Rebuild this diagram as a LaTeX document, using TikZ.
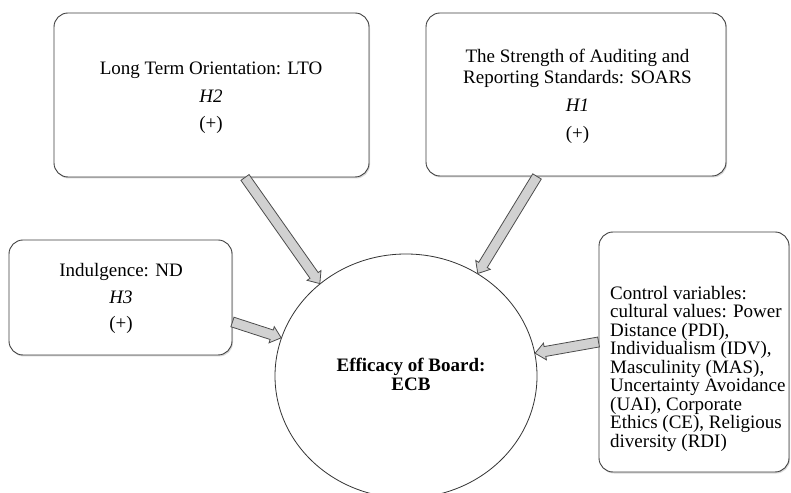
\documentclass[tikz,border=0pt]{standalone}
\usepackage{fontspec}
\setmainfont{Liberation Serif}
\usetikzlibrary{calc,shapes.geometric,shadows}
\newcommand\myarrow[2]{%
  \coordinate (hb) at ($(#2)!10pt!(#1)$);
  \draw[barrow] ($(#1)!5pt!90:(#2)$) -- ($(hb)!5pt!90:(#2)$) -- ($(hb)!8.5pt!90:(#2)$) -- (#2)
     -- ($(hb)!8.5pt!-90:(#2)$) -- ($(hb)!5pt!-90:(#2)$) -- ($(#1)!5pt!-90:(#2)$) -- cycle;}
\begin{document}
\begin{tikzpicture}[x=1pt,y=1pt,
  box/.style={draw=black!75, line width=0.9pt, rounded corners=14pt, fill=white,
    drop shadow={shadow xshift=1pt,shadow yshift=-1.5pt,opacity=0.3}, inner sep=0},
  txt/.style={font=\fontsize{19}{20}\selectfont, anchor=base, inner sep=0},
  hyp/.style={txt, font=\fontsize{19}{20}\selectfont\itshape},
  barrow/.style={draw=black!70, fill=black!18, line width=0.8pt, line join=miter}]
\useasboundingbox (0,0) rectangle (791,492);
\fill[white] (0,0) rectangle (791,492);
% boxes
\node[box, minimum width=315pt, minimum height=164pt] (lto) at (211.5,397) {};
\node[box, minimum width=300pt, minimum height=163pt] (soars) at (576,397.5) {};
\node[box, minimum width=223pt, minimum height=115pt] (nd) at (120.5,194.5) {};
\node[box, minimum width=190pt, minimum height=240pt] (ctrl) at (694,140) {};
\node[ellipse, draw=black!80, line width=0.8pt, fill=white, minimum width=262pt, minimum height=244pt, inner sep=0] (ecb) at (406,116) {};
% texts
\node[txt] (lto1) at (211,417) {Long Term Orientation: LTO};
\node[hyp] (lto2) at (211,389) {H2};
\node[txt] (lto3) at (211,362) {(+)};
\node[txt] (so1) at (577.5,429) {The Strength of Auditing and};
\node[txt] (so2) at (577.5,408.5) {Reporting Standards: SOARS};
\node[hyp] (so3) at (577.5,380) {H1};
\node[txt] (so4) at (577.5,352) {(+)};
\node[txt] (nd1) at (121,215) {Indulgence: ND};
\node[hyp] (nd2) at (121,188) {H3};
\node[txt] (nd3) at (121,162) {(+)};
\node[txt, font=\fontsize{19}{20}\selectfont\bfseries] (ecb1) at (411,120) {Efficacy of Board:};
\node[txt, font=\fontsize{19}{20}\selectfont\bfseries] (ecb2) at (411,101) {ECB};
\node[font=\fontsize{19}{18.5}\selectfont, align=left, anchor=north west, inner sep=0] (ctrltxt) at (610,206)
 {Control variables:\\cultural values: Power\\Distance (PDI),\\Individualism (IDV),\\Masculinity (MAS),\\Uncertainty Avoidance\\(UAI), Corporate\\Ethics (CE), Religious\\diversity (RDI)};
% arrows
\coordinate (s1) at ($(lto.south)+(33.5,0)$);
\coordinate (s2) at ($(soars.south)+(-39,0)$);
\coordinate (s3) at ($(nd.east)+(0,-24.5)$);
\coordinate (s4) at ($(ctrl.west)+(0,10)$);
\myarrow{s1}{ecb.133}
\myarrow{s2}{ecb.55}
\myarrow{s3}{ecb.163}
\myarrow{s4}{ecb.10}
\end{tikzpicture}
\end{document}
